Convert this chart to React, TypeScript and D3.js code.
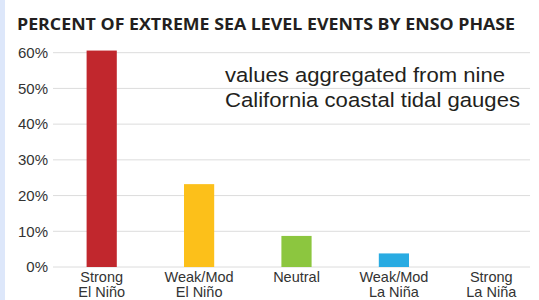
import * as d3 from 'd3';

const categories = ['Strong|El Niño', 'Weak/Mod|El Niño', 'Neutral', 'Weak/Mod|La Niña', 'Strong|La Niña'];
const values = [60.6, 23.2, 8.7, 3.8, 0];
const barColors = ['#c1272d', '#fcc01a', '#8cc63f', '#29abe2', '#999999'];
const yTicks = [0, 10, 20, 30, 40, 50, 60];
const title = 'PERCENT OF EXTREME SEA LEVEL EVENTS BY ENSO PHASE';
const note = ['values aggregated from nine', 'California coastal tidal gauges'];
const noteWidths = [280, 295];

const W = 539;
const H = 300;

export default function App() {
  const x = d3
    .scaleBand<string>()
    .domain(categories)
    .range([53, 540])
    .paddingInner(0.69)
    .paddingOuter(0.345);
  const y = d3.scaleLinear().domain([0, 60]).range([267, 52.7]);

  return (
    <svg
      width={W}
      height={H}
      style={{ position: 'fixed', left: 0, top: 0, background: '#fff' }}
      fontFamily="'Liberation Sans', Arial, sans-serif"
    >
      <rect x={0} y={0} width={W} height={H} fill="#fff" />
      {/* left accent strip */}
      <rect x={0} y={0} width={5} height={H} fill="#dde7fa" />

      <text
        x={17}
        y={30}
        fontFamily="'Open Sans', sans-serif"
        fontWeight="bold"
        fontSize={16}
        fill="#231f20"
        textLength={498}
        lengthAdjust="spacingAndGlyphs"
      >
        {title}
      </text>

      {/* gridlines + y labels */}
      <g>
        {yTicks.map((t) => (
          <g key={t}>
            <line x1={53} x2={530} y1={y(t)} y2={y(t)} stroke="#dcdcdc" strokeWidth={1} />
            <text
              x={48}
              y={y(t)}
              dy="0.35em"
              textAnchor="end"
              fontSize={15}
              fill="#333"
            >
              {`${t}%`}
            </text>
          </g>
        ))}
      </g>

      {/* bars */}
      <g>
        {categories.map((c, i) => (
          <rect
            key={c}
            x={x(c)}
            y={y(values[i])}
            width={x.bandwidth()}
            height={y(0) - y(values[i])}
            fill={barColors[i]}
          />
        ))}
      </g>

      {/* category labels */}
      <g>
        {categories.map((c) => {
          const cx = (x(c) ?? 0) + x.bandwidth() / 2;
          const lines = c.split('|');
          return (
            <g key={c}>
              {lines.map((l, j) => (
                <text
                  key={j}
                  x={cx}
                  y={281.7 + j * 15}
                  textAnchor="middle"
                  fontSize={14.5}
                  fill="#333"
                >
                  {l}
                </text>
              ))}
            </g>
          );
        })}
      </g>

      {/* annotation */}
      {note.map((l, j) => (
        <text
          key={j}
          x={225}
          y={81.7 + j * 25}
          fontSize={20.5}
          fill="#231f20"
          textLength={noteWidths[j]}
          lengthAdjust="spacingAndGlyphs"
        >
          {l}
        </text>
      ))}
    </svg>
  );
}
